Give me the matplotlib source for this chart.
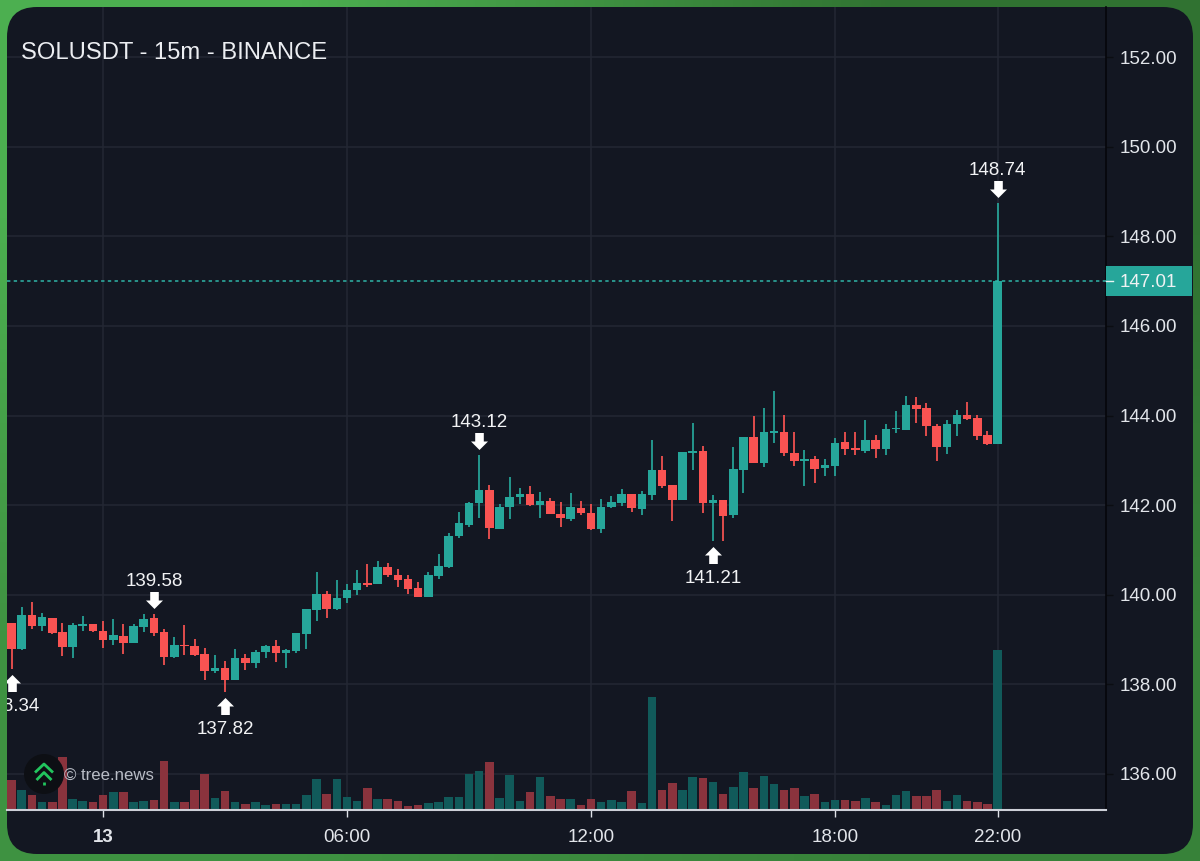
import numpy as np
import matplotlib
matplotlib.use("Agg")
import matplotlib.pyplot as plt
from matplotlib.patches import FancyBboxPatch, Rectangle, Circle
from matplotlib.path import Path
from matplotlib.colors import LinearSegmentedColormap

plt.rcParams['font.family'] = ['Liberation Sans', 'DejaVu Sans']

opens = [139.38,138.79,139.54,139.30,139.48,139.16,138.84,139.31,139.35,139.20,
         138.98,139.08,138.92,139.27,139.48,139.16,138.60,138.87,138.85,138.67,
         138.29,138.36,138.09,138.59,138.48,138.73,138.85,138.70,138.75,139.12,
         139.66,140.01,139.69,139.93,140.10,140.26,140.23,140.62,140.45,140.36,
         140.15,139.96,140.42,140.63,141.32,141.56,142.04,142.33,141.47,141.95,
         142.18,142.25,142.01,142.10,141.81,141.70,141.94,141.83,141.46,141.96,
         142.04,142.25,141.92,142.22,142.79,142.44,142.11,143.17,143.20,142.04,
         142.11,141.78,142.79,143.51,142.94,143.61,143.64,143.17,142.99,143.02,
         142.82,142.87,143.40,143.26,143.20,143.46,143.25,143.69,143.68,144.23,
         144.17,143.77,143.29,143.80,144.02,143.94,143.56,143.36]
closes = [138.79,139.54,139.30,139.50,139.14,138.84,139.33,139.32,139.20,138.98,
          139.10,138.92,139.30,139.47,139.14,138.60,138.88,138.85,138.65,138.30,
          138.36,138.09,138.59,138.48,138.72,138.85,138.69,138.76,139.14,139.69,
          140.01,139.69,139.93,140.10,140.26,140.21,140.62,140.45,140.34,140.13,
          139.96,140.44,140.65,141.32,141.61,142.04,142.33,141.50,141.96,142.19,
          142.25,142.01,142.10,141.81,141.71,141.95,141.82,141.46,141.96,142.06,
          142.25,141.93,142.24,142.79,142.42,142.11,143.19,143.21,142.04,142.11,
          141.75,142.81,143.51,142.94,143.63,143.65,143.16,142.98,143.02,142.81,
          142.90,143.39,143.25,143.23,143.46,143.25,143.69,143.72,144.23,144.15,
          143.76,143.29,143.81,144.01,143.93,143.55,143.36,147.01]
highs = [139.38,139.73,139.84,139.60,139.49,139.38,139.36,139.52,139.35,139.41,
         139.45,139.34,139.35,139.56,139.58,139.23,139.05,139.32,139.02,138.82,
         138.65,138.52,138.79,138.67,138.76,138.88,138.99,138.79,139.14,139.69,
         140.50,140.09,140.34,140.24,140.55,140.68,140.76,140.71,140.57,140.44,
         140.28,140.50,140.91,141.38,141.84,142.08,143.12,142.45,142.03,142.63,
         142.38,142.42,142.29,142.15,142.08,142.27,142.10,142.02,142.13,142.21,
         142.36,142.25,142.31,143.45,143.09,142.46,143.19,143.84,143.33,142.22,
         142.11,143.29,143.52,143.99,144.17,144.55,144.01,143.63,143.23,143.09,
         143.03,143.49,143.63,143.63,143.89,143.56,143.81,144.10,144.43,144.42,
         144.27,143.80,143.91,144.13,144.31,144.01,143.66,148.74]
lows = [138.34,138.76,139.23,139.20,139.12,138.63,138.59,139.20,139.17,138.82,
        138.88,138.68,138.92,139.17,139.08,138.44,138.59,138.65,138.63,138.10,
        138.26,137.82,138.09,138.32,138.37,138.59,138.50,138.36,138.69,138.79,
        139.41,139.49,139.66,139.81,140.00,140.18,140.23,140.40,140.17,140.02,
        139.96,139.96,140.35,140.59,141.26,141.52,141.72,141.25,141.46,141.69,
        142.03,141.99,141.72,141.81,141.52,141.64,141.79,141.44,141.37,141.93,
        141.99,141.84,141.78,142.11,142.39,141.64,142.11,142.79,141.83,141.21,
        141.20,141.72,142.28,142.94,142.85,143.39,143.10,142.87,142.42,142.50,
        142.65,142.65,143.11,143.11,143.17,143.06,143.11,143.60,143.68,143.84,
        143.55,142.98,143.15,143.55,143.90,143.45,143.35,143.36]
volumes = [30.3,20.3,15.3,8.3,7.7,53.3,11.0,8.7,7.7,15.3,18.0,18.0,8.3,8.7,10.3,49.3,
           7.7,7.7,20.3,36.3,12.0,18.7,7.7,6.0,8.3,5.3,6.0,6.0,6.0,15.3,30.7,16.3,30.7,
           12.7,9.3,22.3,11.0,11.0,9.3,4.3,5.3,7.0,8.3,12.7,13.3,36.3,39.0,48.3,12.0,
           34.7,9.3,18.0,33.3,13.7,11.0,11.0,5.3,11.0,8.3,10.3,7.7,19.3,7.0,113.0,20.3,
           27.3,20.3,33.3,32.3,28.0,16.3,23.0,38.0,22.3,34.0,26.3,19.7,22.3,13.7,16.3,
           8.3,10.3,10.3,9.3,12.0,7.7,5.3,14.7,18.7,13.7,13.7,19.7,9.3,14.7,9.3,7.7,6.0,160.3]

price_ticks = [136, 138, 140, 142, 144, 146, 148, 150, 152]
time_tick_index = [9, 33, 57, 81, 97]
time_tick_labels = ["13", "06:00", "12:00", "18:00", "22:00"]
extreme_index = [0, 14, 21, 46, 69, 97]
extreme_kind = ["low", "high", "low", "high", "low", "high"]
title = "SOLUSDT - 15m - BINANCE"
watermark = "© tree.news"

W, H = 1200, 861
DPI = 100
PX = 72 / DPI
UP, DOWN = "#26a69a", "#f95352"
UP_VOL, DOWN_VOL = "#115a5a", "#8a333d"
PANEL = "#131722"
GRID = "#232733"
TXT = "#e2e5ea"
LABEL_SIZE = 13.5

fig = plt.figure(figsize=(W / DPI, H / DPI), dpi=DPI)

# background gradient + rounded panel (pixel coordinates)
bg = fig.add_axes([0, 0, 1, 1], zorder=0)
bg.set_xlim(0, W); bg.set_ylim(H, 0); bg.axis("off")
cmap = LinearSegmentedColormap.from_list("g", ["#2f6f30", "#4caf50"])
grad = np.array([[1.0, 0.05], [0.55, 0.3]])
bg.imshow(grad, extent=(0, W, H, 0), cmap=cmap, vmin=0, vmax=1,
          interpolation="bilinear", aspect="auto")
bg.set_xlim(0, W); bg.set_ylim(H, 0)
bg.add_patch(FancyBboxPatch((7, 7), 1186, 847, boxstyle="round,pad=0,rounding_size=30",
                            fc=PANEL, ec="none"))

# main chart
L, R, T, B = 7, 1106, 7, 810
ax = fig.add_axes([L / W, (H - B) / H, (R - L) / W, (B - T) / H], zorder=1)
ax.patch.set_alpha(0)

x = np.arange(len(closes))
o, c, hi, lo, v = map(np.array, (opens, closes, highs, lows, volumes))
up = c >= o
VOL_AXIS_TOP = B - T

ax.bar(x, v / VOL_AXIS_TOP, width=0.84, color=[UP_VOL if u else DOWN_VOL for u in up],
       transform=ax.get_xaxis_transform(), zorder=2, linewidth=0)
candle_colors = [UP if u else DOWN for u in up]
ax.vlines(x, lo, hi, colors=candle_colors, linewidth=1.25, zorder=3)
body_b = np.minimum(o, c)
body_h = np.maximum(np.abs(c - o), 0.035)
ax.bar(x, body_h, bottom=body_b, width=0.84, color=candle_colors, linewidth=0, zorder=4)

ax.set_xlim((L - 11.6) / 10.165, (R - 11.6) / 10.165)
ax.set_ylim(136 - (B - 774) / 44.81, 136 + (774 - T) / 44.81)

ax.axhline(closes[-1], color="#2fb5a8", lw=1.1, ls=(0, (2.2, 2.2)), zorder=5)

# axes decoration
ax.yaxis.tick_right()
ax.set_yticks(price_ticks, [f"{p:.2f}" for p in price_ticks])
ax.set_xticks(time_tick_index, time_tick_labels)
ax.tick_params(axis="y", length=5, width=1, color="#0b0d12", labelcolor=TXT,
               labelsize=LABEL_SIZE, pad=5)
ax.tick_params(axis="x", length=5, width=1, color="#dfe2e8", labelcolor=TXT,
               labelsize=LABEL_SIZE, pad=9)
ax.get_xticklabels()[0].set_fontweight("bold")
ax.grid(True, color=GRID, lw=1.1)
ax.set_axisbelow(True)
for s in ("top", "left"):
    ax.spines[s].set_visible(False)
ax.spines["right"].set_color("#05060a"); ax.spines["right"].set_linewidth(1.2)
ax.spines["bottom"].set_color("#cdd0d8"); ax.spines["bottom"].set_linewidth(1.5)

# high/low arrows and labels
def arrow_path(sign):
    pts = [(0, 5.5), (8.5, 14), (4.3, 14), (4.3, 22.5), (-4.3, 22.5), (-4.3, 14), (-8.5, 14), (0, 5.5)]
    return Path([(px, sign * py) for px, py in pts], closed=True)

for i, kind in zip(extreme_index, extreme_kind):
    price = hi[i] if kind == "high" else lo[i]
    sign = 1 if kind == "high" else -1
    ax.plot([i], [price], marker=arrow_path(sign), ms=2 * 22.5 * PX, mfc="white", mew=0,
            ls="none", zorder=6)
    ax.annotate(f"{price:.2f}", (i, price), xytext=(0, (sign * 35 - 2.5) * PX),
                textcoords="offset points", ha="center", va="center", color="#f2f3f5",
                fontsize=LABEL_SIZE, clip_on=True, zorder=6)

# overlay
ov = fig.add_axes([0, 0, 1, 1], zorder=2)
ov.set_xlim(0, W); ov.set_ylim(H, 0); ov.axis("off")
ov.text(21, 53, title, color="#eceef2", fontsize=17.1, ha="left", va="center")

# last price tag
ov.add_patch(Rectangle((1106, 266), 86, 30, fc=UP, ec="none"))
ov.plot([1106, 1113], [281, 281], color="#e8f5f3", lw=1)
ov.text(1120, 282.5, f"{closes[-1]:.2f}", color="#eef2f3", fontsize=LABEL_SIZE, ha="left", va="center")

# watermark
ov.add_patch(Circle((44, 774), 20, fc="#0d0f14", ec="none"))
gc = "#22c55e"
ov.plot([35, 44, 53], [772.5, 764, 772.5], color=gc, lw=2.0, solid_capstyle="butt")
ov.plot([36.5, 44, 51.5], [780, 772.5, 780], color=gc, lw=2.0, solid_capstyle="butt")
ov.plot([44, 44], [781.5, 785], color=gc, lw=2.0, solid_capstyle="butt")
ov.text(64, 776, watermark, color="#b9bdc6", fontsize=12.1, ha="left", va="center")

fig.savefig("out.png", dpi=DPI)
